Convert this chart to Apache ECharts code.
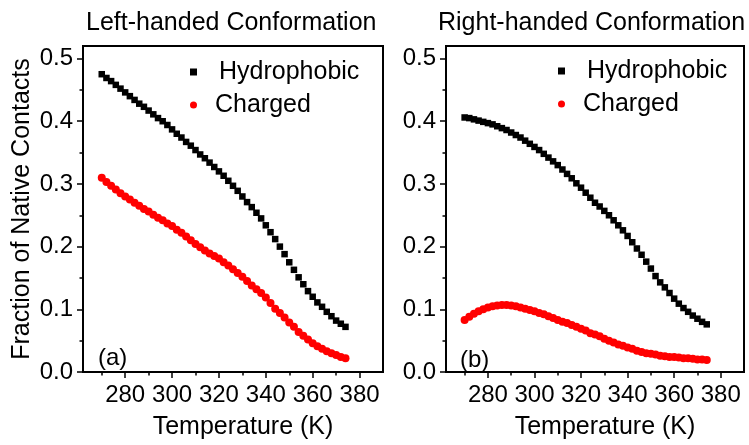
<!DOCTYPE html>
<html>
<head>
<meta charset="utf-8">
<style>
  html, body { margin: 0; padding: 0; background: #fff; }
  #chart { width: 749px; height: 445px; }
</style>
<script src="https://cdn.jsdelivr.net/npm/echarts@6.0.0/dist/echarts.min.js"></script>
</head>
<body>
<div id="chart"></div>
<script>
// temperatures (K), one point every 2 K
const temps = [
  270, 272, 274, 276, 278, 280, 282, 284, 286, 288,
  290, 292, 294, 296, 298, 300, 302, 304, 306, 308,
  310, 312, 314, 316, 318, 320, 322, 324, 326, 328,
  330, 332, 334, 336, 338, 340, 342, 344, 346, 348,
  350, 352, 354, 356, 358, 360, 362, 364, 366, 368,
  370, 372, 374
];

// (a) left-handed conformation
const leftHydrophobic = [
  0.475, 0.469, 0.464, 0.458, 0.452, 0.446, 0.440, 0.434, 0.428, 0.423,
  0.417, 0.411, 0.405, 0.400, 0.394, 0.387, 0.380, 0.374, 0.367, 0.361,
  0.354, 0.347, 0.341, 0.334, 0.327, 0.320, 0.313, 0.305, 0.297, 0.289,
  0.280, 0.271, 0.263, 0.254, 0.245, 0.234, 0.223, 0.212, 0.200, 0.188,
  0.175, 0.163, 0.151, 0.140, 0.129, 0.120, 0.111, 0.104, 0.096, 0.089,
  0.082, 0.077, 0.072
];
const leftCharged = [
  0.310, 0.303, 0.297, 0.291, 0.285, 0.280, 0.275, 0.270, 0.265, 0.260,
  0.256, 0.251, 0.246, 0.242, 0.237, 0.233, 0.227, 0.222, 0.216, 0.210,
  0.204, 0.199, 0.194, 0.189, 0.185, 0.181, 0.175, 0.170, 0.164, 0.158,
  0.152, 0.145, 0.138, 0.132, 0.126, 0.119, 0.110, 0.101, 0.094, 0.087,
  0.079, 0.072, 0.064, 0.058, 0.052, 0.046, 0.041, 0.037, 0.033, 0.030,
  0.027, 0.024, 0.022
];

// (b) right-handed conformation
const rightHydrophobic = [
  0.406, 0.405, 0.403, 0.401, 0.399, 0.397, 0.395, 0.392, 0.389, 0.386,
  0.382, 0.378, 0.374, 0.369, 0.364, 0.359, 0.354, 0.348, 0.342, 0.336,
  0.330, 0.323, 0.316, 0.309, 0.301, 0.294, 0.286, 0.278, 0.270, 0.264,
  0.257, 0.250, 0.242, 0.234, 0.226, 0.217, 0.207, 0.197, 0.187, 0.176,
  0.165, 0.153, 0.143, 0.135, 0.126, 0.117, 0.109, 0.102, 0.096, 0.090,
  0.085, 0.080, 0.076
];
const rightCharged = [
  0.083, 0.088, 0.093, 0.097, 0.100, 0.103, 0.105, 0.106, 0.107, 0.107,
  0.106, 0.105, 0.103, 0.101, 0.099, 0.097, 0.094, 0.092, 0.089, 0.086,
  0.083, 0.080, 0.078, 0.075, 0.072, 0.069, 0.066, 0.062, 0.060, 0.057,
  0.053, 0.050, 0.047, 0.044, 0.042, 0.039, 0.037, 0.034, 0.032, 0.030,
  0.029, 0.028, 0.026, 0.025, 0.024, 0.024, 0.023, 0.022, 0.022, 0.021,
  0.020, 0.020, 0.019
];

// tick positions
const xMajorTicks = [280, 300, 320, 340, 360, 380];
const xMinorTicks = [270, 290, 310, 330, 350, 370];
const yMajorTicks = [0, 0.1, 0.2, 0.3, 0.4, 0.5];
const yMinorTicks = [0.05, 0.15, 0.25, 0.35, 0.45];

const FONT = '"Liberation Sans", Arial, sans-serif';
const BLACK = '#000';
const RED = '#ff0000';

const chart = echarts.init(document.getElementById('chart'), null, { renderer: 'canvas' });

function pairs(values) {
  return temps.map((t, i) => [t, values[i]]);
}

function xAxes(gridIndex) {
  return [{
    type: 'value',
    gridIndex: gridIndex,
    position: 'bottom',
    min: 262,
    max: 390,
    axisLine: { show: true, onZero: false, lineStyle: { color: BLACK, width: 2 } },
    axisTick: { show: true, length: 6, customValues: xMajorTicks, lineStyle: { color: BLACK, width: 1.5 } },
    axisLabel: { customValues: xMajorTicks, margin: 11, color: BLACK, fontSize: 24, fontFamily: FONT },
    splitLine: { show: false },
    name: 'Temperature (K)',
    nameLocation: 'middle',
    nameGap: 43,
    nameTextStyle: { color: BLACK, fontSize: 25, fontFamily: FONT, padding: [0, 0, 0, 20] }
  }, {
    type: 'value',
    gridIndex: gridIndex,
    position: 'bottom',
    min: 262,
    max: 390,
    axisLine: { show: false },
    axisTick: { show: true, length: 3.5, customValues: xMinorTicks, lineStyle: { color: BLACK, width: 1.5 } },
    axisLabel: { show: false },
    splitLine: { show: false }
  }];
}

function yAxes(gridIndex, withName) {
  const major = {
    type: 'value',
    gridIndex: gridIndex,
    position: 'left',
    min: 0,
    max: 0.52,
    axisLine: { show: true, onZero: false, lineStyle: { color: BLACK, width: 2 } },
    axisTick: { show: true, length: 6, customValues: yMajorTicks, lineStyle: { color: BLACK, width: 1.5 } },
    axisLabel: {
      customValues: yMajorTicks,
      margin: 10,
      color: BLACK,
      fontSize: 24,
      fontFamily: FONT,
      formatter: v => v.toFixed(1)
    },
    splitLine: { show: false }
  };
  if (withName) {
    major.name = 'Fraction of Native Contacts';
    major.nameLocation = 'middle';
    major.nameGap = 48;
    major.nameTextStyle = { color: BLACK, fontSize: 25, fontFamily: FONT };
  }
  return [major, {
    type: 'value',
    gridIndex: gridIndex,
    position: 'left',
    min: 0,
    max: 0.52,
    axisLine: { show: false },
    axisTick: { show: true, length: 3.5, customValues: yMinorTicks, lineStyle: { color: BLACK, width: 1.5 } },
    axisLabel: { show: false },
    splitLine: { show: false }
  }];
}

function legendAt(left, top) {
  return {
    orient: 'vertical',
    left: left,
    top: top,
    padding: 0,
    itemGap: 7,
    itemWidth: 7,
    itemHeight: 7,
    selectedMode: false,
    textStyle: { color: BLACK, fontSize: 25, fontFamily: FONT, lineHeight: 26 },
    data: [
      { name: 'Hydrophobic', icon: 'rect', itemStyle: { opacity: 1 }, textStyle: { padding: [0, 0, 0, 17] } },
      { name: 'Charged', icon: 'circle', itemStyle: { opacity: 1 }, textStyle: { padding: [0, 0, 0, 13] } }
    ]
  };
}

const textStyle = { color: BLACK, fontSize: 25, fontWeight: 'normal', fontFamily: FONT };

const option = {
  backgroundColor: '#fff',
  animation: false,
  title: [
    { text: 'Left-handed Conformation', left: 86, top: 11, padding: 0, textStyle: textStyle },
    { text: 'Right-handed Conformation', left: 438, top: 11, padding: 0, textStyle: textStyle },
    { text: '(a)', left: 98, top: 346, padding: 0, textStyle: { ...textStyle, fontSize: 24 } },
    { text: '(b)', left: 460, top: 348, padding: 0, textStyle: { ...textStyle, fontSize: 24 } }
  ],
  legend: [legendAt(190, 59), legendAt(558, 58)],
  grid: [
    { left: 83, top: 46, width: 300, height: 333, show: true, borderColor: BLACK, borderWidth: 2 },
    { left: 446, top: 46, width: 298, height: 333, show: true, borderColor: BLACK, borderWidth: 2 }
  ],
  xAxis: [...xAxes(0), ...xAxes(1)],
  yAxis: [...yAxes(0, true), ...yAxes(1, false)],
  series: [
    {
      name: 'Hydrophobic', type: 'scatter', xAxisIndex: 0, yAxisIndex: 0,
      symbol: 'rect', symbolSize: 6.5, itemStyle: { color: BLACK, opacity: 1 },
      data: pairs(leftHydrophobic)
    },
    {
      name: 'Charged', type: 'scatter', xAxisIndex: 0, yAxisIndex: 0,
      symbol: 'circle', symbolSize: 8, itemStyle: { color: RED, opacity: 1 },
      data: pairs(leftCharged)
    },
    {
      name: 'Hydrophobic', type: 'scatter', xAxisIndex: 2, yAxisIndex: 2,
      symbol: 'rect', symbolSize: 6.5, itemStyle: { color: BLACK, opacity: 1 },
      data: pairs(rightHydrophobic)
    },
    {
      name: 'Charged', type: 'scatter', xAxisIndex: 2, yAxisIndex: 2,
      symbol: 'circle', symbolSize: 8, itemStyle: { color: RED, opacity: 1 },
      data: pairs(rightCharged)
    }
  ]
};

chart.setOption(option);
</script>
</body>
</html>
